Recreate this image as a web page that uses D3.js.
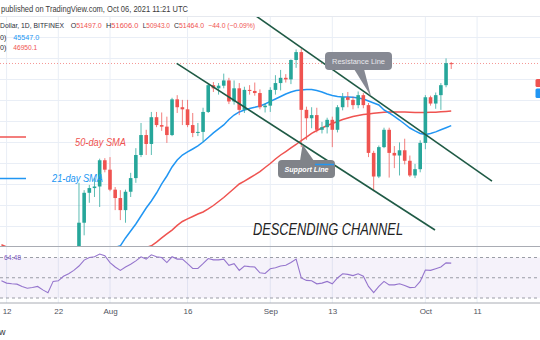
<!DOCTYPE html>
<html>
<head>
<meta charset="utf-8">
<script src="https://cdn.jsdelivr.net/npm/d3@7"></script>
<style>
  html, body { margin: 0; padding: 0; background: #fff; }
  svg { display: block; }
  text { font-family: "Liberation Sans", Arial, sans-serif; }
</style>
</head>
<body>
<svg id="chart" width="540" height="340"></svg>
<script>
// ---- Daily calendar used by the moving averages and the RSI (Jul 11 – Oct 6, 2021)
const days = [
  "2021-07-11","2021-07-12","2021-07-13","2021-07-14","2021-07-15","2021-07-16","2021-07-17",
  "2021-07-18","2021-07-19","2021-07-20","2021-07-21","2021-07-22","2021-07-23","2021-07-24",
  "2021-07-25","2021-07-26","2021-07-27","2021-07-28","2021-07-29","2021-07-30","2021-07-31",
  "2021-08-01","2021-08-02","2021-08-03","2021-08-04","2021-08-05","2021-08-06","2021-08-07",
  "2021-08-08","2021-08-09","2021-08-10","2021-08-11","2021-08-12","2021-08-13","2021-08-14",
  "2021-08-15","2021-08-16","2021-08-17","2021-08-18","2021-08-19","2021-08-20","2021-08-21",
  "2021-08-22","2021-08-23","2021-08-24","2021-08-25","2021-08-26","2021-08-27","2021-08-28",
  "2021-08-29","2021-08-30","2021-08-31","2021-09-01","2021-09-02","2021-09-03","2021-09-04",
  "2021-09-05","2021-09-06","2021-09-07","2021-09-08","2021-09-09","2021-09-10","2021-09-11",
  "2021-09-12","2021-09-13","2021-09-14","2021-09-15","2021-09-16","2021-09-17","2021-09-18",
  "2021-09-19","2021-09-20","2021-09-21","2021-09-22","2021-09-23","2021-09-24","2021-09-25",
  "2021-09-26","2021-09-27","2021-09-28","2021-09-29","2021-09-30","2021-10-01","2021-10-02",
  "2021-10-03","2021-10-04","2021-10-05","2021-10-06"
];

// ---- Candles (BTC/USD daily, Jul 26 – Oct 6)
const candleDays = days.slice(15);
const open = [
  33700,36300,39150,39600,39750,42250,
  41350,39450,38650,37500,39250,40550,42750,44650,43800,46350,45600,45450,44650,48050,47300,
  47100,45600,44850,44950,46850,49400,49100,49350,49850,47850,49100,47050,48950,48850,48650,47300,
  47450,48950,49600,50100,49950,51800,52550,47050,46250,46550,45150,45400,46100,45150,47300,
  48250,48000,47500,48450,47500,42950,40700,43500,45150,42950,42700,43200,42200,40800,41400,
  43900,48250,47650,48450,49400,51497
];
const high = [
  40100,39400,39900,40550,42400,42450,
  42550,39700,39400,39450,41050,43400,45800,45150,46850,46850,46800,46400,48200,48450,48000,
  48000,46750,45800,47250,49600,49700,49600,50500,50100,49850,49600,49250,49400,49650,49000,47700,
  49200,50350,50850,50450,51850,52800,52900,47350,47300,47250,45900,46300,46400,47500,48650,
  48750,48300,48800,48650,47700,43150,43650,45350,45350,43600,43950,44300,42700,41900,44150,
  48450,48400,48700,49600,51950,51606
];
const low = [
  33300,35100,38200,38750,37800,41100,
  39300,37500,36550,36300,38750,40100,42550,42750,42750,45400,45050,43900,44550,46750,45600,
  45400,44450,44550,44000,46750,48750,48500,49100,47600,47550,46550,46750,48500,48400,47100,46800,
  46850,48500,48900,49650,49500,51050,43500,44200,45300,44900,44800,44800,43500,44900,47000,
  47300,47100,47200,47200,42550,39300,40550,43400,40600,41500,40800,41850,40650,40550,41100,
  43300,47450,47150,47050,49200,50943
];
const close = [
  36300,39150,39600,39750,42250,41350,
  39450,38650,37500,39250,40550,42750,44650,43800,46350,45600,45450,44650,48050,47300,47100,
  45600,44850,44950,46850,49400,49100,49350,49850,47850,49100,47050,48950,48850,48650,47300,47450,
  48950,49600,50100,49950,51800,52550,47050,46250,46550,45150,45400,46100,45150,47300,48250,
  48000,47500,48450,47500,42950,40700,43500,45150,42950,42700,43200,42200,40800,41400,43900,
  48250,47650,48450,49400,51497,51464
];

// ---- Simple moving averages (21-day and 50-day), one value per entry of `days`
const sma21 = [
  33900,33800,33650,33500,33350,33200,33050,32900,32750,32600,32500,32450,32450,32500,
  32600,32750,32950,33150,33350,33550,33700,
  33850,33950,34100,34850,35510,36180,36940,37700,38370,39130,40000,40750,41610,42270,
  42750,43040,43320,43610,43990,44420,44850,45230,45610,46130,46560,46850,47040,47180,
  47290,47420,47610,
  47850,48080,48320,48560,48750,48890,48940,48990,48990,48890,48750,48560,48420,48320,
  48270,48270,48250,48180,48080,47890,47700,47510,47040,46750,46420,46080,45700,45320,
  45040,44800,
  44700,44800,44950,45150,45350,45547.0
];
const sma50 = [
  34200,34000,33800,33600,33450,33350,33250,33150,33050,32950,32900,32850,32850,32850,
  32900,32950,33000,33100,33200,33300,33400,
  33500,33550,33600,33650,33700,33750,33850,33950,34100,34460,34850,35230,35600,36040,
  36420,36660,36890,37130,37320,37610,37940,38320,38700,39130,39560,39990,40270,40560,
  40850,41160,41560,
  41940,42370,42750,43080,43420,43750,44130,44460,44800,45080,45320,45560,45750,45940,
  46130,46270,46420,46510,46600,46660,46720,46770,46810,46840,46850,46850,46840,46820,
  46800,46790,
  46800,46810,46830,46860,46900,46950.1
];

// ---- RSI (14), one value per entry of `days`
const rsi = [
  47,44.7,44,43.7,41.4,39.7,40.3,41.4,38,35.3,46.4,47,51.5,53.9,57.3,61.6,67.4,70,70.7,73.4,71.7,
  65,60.6,57.3,60.6,63.3,66.7,70.7,68.4,72.7,70.7,70,65,70.7,68.4,68.4,63.9,59.2,59.2,63.9,69,
  67.7,67.7,68.4,62.3,63.9,57.3,61.6,61,60.6,54.9,54.2,
  58.9,59.9,61.6,62.3,65,68.4,49.8,47.4,47,44,44.7,46.4,44,49.8,53.9,53.3,52.1,53.9,51.5,41.4,
  35.3,41.4,46.4,43,43,44,42.3,40.3,40.6,46.4,
  57.6,57.3,58.9,60.6,64.7,64.48
];

// ---- Axis ticks
const dateTicks = ["2021-07-12","2021-07-22","2021-08-01","2021-08-16","2021-09-01","2021-09-13","2021-10-01","2021-10-11"];
const dateTickLabels = ["12","22","Aug","16","Sep","13","Oct","11"];
const priceTicks = [34000,36000,38000,40000,42000,44000,46000,48000,50000,52000,54000,56000];
const rsiLevels = [70, 50, 30];

// ---- Descending channel trend lines (time, price)
const channelUpper = [["2021-08-29T05:45Z", 55990], ["2021-10-13T21:20Z", 40270]];
const channelLower = [["2021-08-13T21:36Z", 51480], ["2021-10-02T20:40Z", 35610]];

// ---------------------------------------------------------------------------
const parse = s => new Date(s.length > 10 ? s : s + "T00:00Z");
const W = 540;
const svg = d3.select("#chart");

const pane = { top: 17, bottom: 246.5 };
const rsiPane = { top: 246.5, bottom: 303 };

const x = d3.scaleUtc()
  .domain([parse("2021-07-01"), parse("2021-11-01")])
  .range([110 - 31 * 5.17, 110 + 92 * 5.17]);
const y = d3.scaleLinear().domain([36000, 52000]).range([225.87, 57.87]);
const yr = d3.scaleLinear().domain([30, 70]).range([298, 257.5]);

const C = {
  up: "#26a69a", down: "#ef5350", red: "#ef5350", blue: "#2196f3",
  grid: "#e9eef6", channel: "#1f5a45", text: "#2a2e39", rsi: "#9575cd"
};

const defs = svg.append("defs");
defs.append("clipPath").attr("id", "clipMain").append("rect")
  .attr("x", 0).attr("y", pane.top).attr("width", W).attr("height", pane.bottom - pane.top);
defs.append("clipPath").attr("id", "clipRsi").append("rect")
  .attr("x", 0).attr("y", rsiPane.top).attr("width", W).attr("height", rsiPane.bottom - rsiPane.top);

// grid
const grid = svg.append("g");
grid.selectAll("line.v").data(dateTicks).join("line")
  .attr("x1", d => x(parse(d))).attr("x2", d => x(parse(d)))
  .attr("y1", pane.top).attr("y2", rsiPane.bottom)
  .attr("stroke", C.grid).attr("stroke-width", 1);
grid.append("g").attr("clip-path", "url(#clipMain)")
  .selectAll("line").data(priceTicks).join("line")
  .attr("x1", 0).attr("x2", W)
  .attr("y1", d => Math.round(y(d)) + 0.5).attr("y2", d => Math.round(y(d)) + 0.5)
  .attr("stroke", C.grid).attr("stroke-width", 1);

// header
svg.append("text").attr("x", 1).attr("y", 12)
  .attr("font-size", 9.5).attr("fill", "#3b3b3b")
  .attr("textLength", 187).attr("lengthAdjust", "spacingAndGlyphs")
  .text("published on TradingView.com, Oct 06, 2021 11:21 UTC");
svg.append("line").attr("x1", 0).attr("x2", W).attr("y1", 16.5).attr("y2", 16.5)
  .attr("stroke", "#e6e9ef");

// main pane contents
const main = svg.append("g").attr("clip-path", "url(#clipMain)");

// last-price line
main.append("line")
  .attr("x1", 0).attr("x2", W)
  .attr("y1", y(close[close.length - 1])).attr("y2", y(close[close.length - 1]))
  .attr("stroke", C.red).attr("stroke-opacity", 0.6).attr("stroke-dasharray", "1,2");

// moving averages
const smaLine = vals => d3.line()
  .x((d, i) => x(parse(days[i])))
  .y(d => y(d))(vals);
main.append("path").attr("d", smaLine(sma50)).attr("fill", "none")
  .attr("stroke", C.red).attr("stroke-width", 1.5);
main.append("path").attr("d", smaLine(sma21)).attr("fill", "none")
  .attr("stroke", C.blue).attr("stroke-width", 1.5);

// candles
const candles = candleDays.map((d, i) => ({ t: parse(d), o: open[i], h: high[i], l: low[i], c: close[i] }));
const cg = main.append("g");
cg.selectAll("line").data(candles).join("line")
  .attr("x1", d => x(d.t)).attr("x2", d => x(d.t))
  .attr("y1", d => y(d.h)).attr("y2", d => y(d.l))
  .attr("stroke", d => d.c >= d.o ? C.up : C.down)
  .attr("stroke-opacity", 0.75).attr("stroke-width", 1);
cg.selectAll("rect").data(candles).join("rect")
  .attr("x", d => x(d.t) - 1.8).attr("width", 3.6)
  .attr("y", d => y(Math.max(d.o, d.c)))
  .attr("height", d => Math.max(1, Math.abs(y(d.o) - y(d.c))))
  .attr("fill", d => d.c >= d.o ? C.up : C.down);

// channel lines
const chanPt = p => [x(parse(p[0])), y(p[1])];
const chanAt = (line, t) => {
  const a = chanPt(line[0]), b = chanPt(line[1]);
  const px = x(parse(t));
  return [px, a[1] + (b[1] - a[1]) * (px - a[0]) / (b[0] - a[0])];
};
[channelUpper, channelLower].forEach(line => {
  main.append("path").attr("d", d3.line()(line.map(chanPt)))
    .attr("stroke", C.channel).attr("stroke-width", 1.6).attr("fill", "none");
});

// callouts
function callout(bx, by, bw, bh, tip, base1, base2, label, style) {
  const g = main.append("g");
  g.append("path")
    .attr("d", `M${base1[0]},${base1[1]}L${tip[0]},${tip[1]}L${base2[0]},${base2[1]}Z`)
    .attr("fill", style.fill);
  g.append("rect").attr("x", bx).attr("y", by).attr("width", bw).attr("height", bh)
    .attr("rx", 4).attr("fill", style.fill);
  g.append("text").attr("x", bx + bw / 2).attr("y", by + bh / 2 + 3)
    .attr("text-anchor", "middle").attr("font-size", style.size)
    .attr("font-style", style.italic ? "italic" : "normal")
    .attr("font-weight", style.bold ? "bold" : "normal")
    .attr("fill", style.color)
    .attr("textLength", style.len).attr("lengthAdjust", "spacingAndGlyphs")
    .text(label);
  return g;
}
const resTip = chanAt(channelUpper, "2021-09-20T12:00Z");
callout(325, 52, 67, 18, resTip, [354, 69], [364, 69], "Resistance Line",
  { fill: "#868993", color: "#e8e8ec", size: 8, len: 53 });
const supTip = chanAt(channelLower, "2021-09-07T06:00Z");
callout(278, 160, 57, 18, supTip, [300, 161], [314, 161], "Support Line",
  { fill: "#808389", color: "#ffffff", size: 8, italic: true, bold: true, len: 44 });
main.append("line").attr("x1", 315).attr("x2", 334).attr("y1", 164.5).attr("y2", 164.5)
  .attr("stroke", C.blue).attr("stroke-width", 1.5);

// drawn labels
main.append("line").attr("x1", 0).attr("x2", 26).attr("y1", 137).attr("y2", 137)
  .attr("stroke", C.red).attr("stroke-width", 1.5);
main.append("line").attr("x1", 0).attr("x2", 26).attr("y1", 178.5).attr("y2", 178.5)
  .attr("stroke", C.blue).attr("stroke-width", 1.5);
main.append("text").attr("x", 75).attr("y", 145.5).attr("font-size", 10.5)
  .attr("font-style", "italic").attr("fill", C.red)
  .attr("textLength", 51).attr("lengthAdjust", "spacingAndGlyphs").text("50-day SMA");
main.append("text").attr("x", 52).attr("y", 182).attr("font-size", 10.5)
  .attr("font-style", "italic").attr("fill", C.blue)
  .attr("textLength", 51).attr("lengthAdjust", "spacingAndGlyphs").text("21-day SMA");
main.append("text").attr("x", 253).attr("y", 235).attr("font-size", 16.5)
  .attr("font-style", "italic").attr("fill", "#222")
  .attr("textLength", 150).attr("lengthAdjust", "spacingAndGlyphs").text("DESCENDING CHANNEL");

// legend
const legend = svg.append("g").attr("font-size", 7.2);
legend.append("text").attr("x", 0).attr("y", 28).attr("fill", C.text).attr("font-size", 6.9)
  .attr("textLength", 64).attr("lengthAdjust", "spacingAndGlyphs").text("Dollar, 1D, BITFINEX");
const last = candles[candles.length - 1];
[["O", last.o, 70.7, 31], ["H", last.h, 106, 32.3], ["L", last.l, 142.7, 27.3], ["C", last.c, 174, 30]]
  .forEach(([k, v, px, len]) => {
    const t = legend.append("text").attr("x", px).attr("y", 28)
      .attr("textLength", len).attr("lengthAdjust", "spacingAndGlyphs");
    t.append("tspan").attr("fill", C.text).text(k);
    t.append("tspan").attr("fill", C.red).text(v.toFixed(1));
  });
legend.append("text").attr("x", 208.3).attr("y", 28).attr("fill", C.red)
  .attr("textLength", 46.7).attr("lengthAdjust", "spacingAndGlyphs")
  .text("\u221244.0 (\u22120.09%)");
legend.append("text").attr("x", 0).attr("y", 40).attr("fill", C.text).text("0)");
legend.append("text").attr("x", 13.3).attr("y", 40).attr("fill", C.blue)
  .attr("textLength", 26).attr("lengthAdjust", "spacingAndGlyphs")
  .text(sma21[sma21.length - 1].toFixed(1));
legend.append("text").attr("x", 0).attr("y", 49.5).attr("fill", C.text).text("0)");
legend.append("text").attr("x", 13.3).attr("y", 49.5).attr("fill", C.red)
  .attr("textLength", 24).attr("lengthAdjust", "spacingAndGlyphs")
  .text(sma50[sma50.length - 1].toFixed(1));

// partially visible price-scale labels at the right edge
svg.append("rect").attr("x", 535.5).attr("y", 79).attr("width", 8).attr("height", 8)
  .attr("rx", 1.5).attr("fill", C.red);
svg.append("rect").attr("x", 535.5).attr("y", 88.5).attr("width", 8).attr("height", 9.5)
  .attr("rx", 1.5).attr("fill", C.blue);

// RSI pane
const rp = svg.append("g").attr("clip-path", "url(#clipRsi)");
rp.append("rect").attr("x", 0).attr("width", W)
  .attr("y", yr(70)).attr("height", yr(30) - yr(70))
  .attr("fill", "#7e57c2").attr("fill-opacity", 0.08);
rp.selectAll("line.lvl").data(rsiLevels).join("line")
  .attr("x1", 0).attr("x2", W)
  .attr("y1", d => yr(d)).attr("y2", d => yr(d))
  .attr("stroke", "#9a9da6").attr("stroke-width", 1).attr("stroke-dasharray", "3,3");
rp.append("path")
  .attr("d", d3.line().x((d, i) => x(parse(days[i]))).y(d => yr(d))(rsi))
  .attr("fill", "none").attr("stroke", C.rsi).attr("stroke-width", 1.1);
svg.append("text").attr("x", 4).attr("y", 259.8).attr("font-size", 7)
  .attr("fill", "#7e57c2").attr("textLength", 17).attr("lengthAdjust", "spacingAndGlyphs")
  .text(rsi[rsi.length - 1].toFixed(2));

// pane separators
[pane.bottom, rsiPane.bottom].forEach(py => {
  svg.append("line").attr("x1", 0).attr("x2", W).attr("y1", py).attr("y2", py)
    .attr("stroke", "#a9acb4").attr("stroke-width", 1);
});

// time axis
const xAxis = d3.axisBottom(x)
  .tickValues(dateTicks.map(parse))
  .tickFormat((d, i) => dateTickLabels[i])
  .tickSize(0).tickPadding(5.5);
const ax = svg.append("g").attr("transform", `translate(0,${rsiPane.bottom})`).call(xAxis);
ax.select(".domain").remove();
ax.selectAll("text").attr("font-size", 8).attr("fill", "#50535e")
  .attr("font-family", "'Liberation Sans', Arial, sans-serif");

// footer fragment
svg.append("text").attr("x", -1).attr("y", 335).attr("font-size", 9).attr("fill", "#333").text("w");
</script>
</body>
</html>
